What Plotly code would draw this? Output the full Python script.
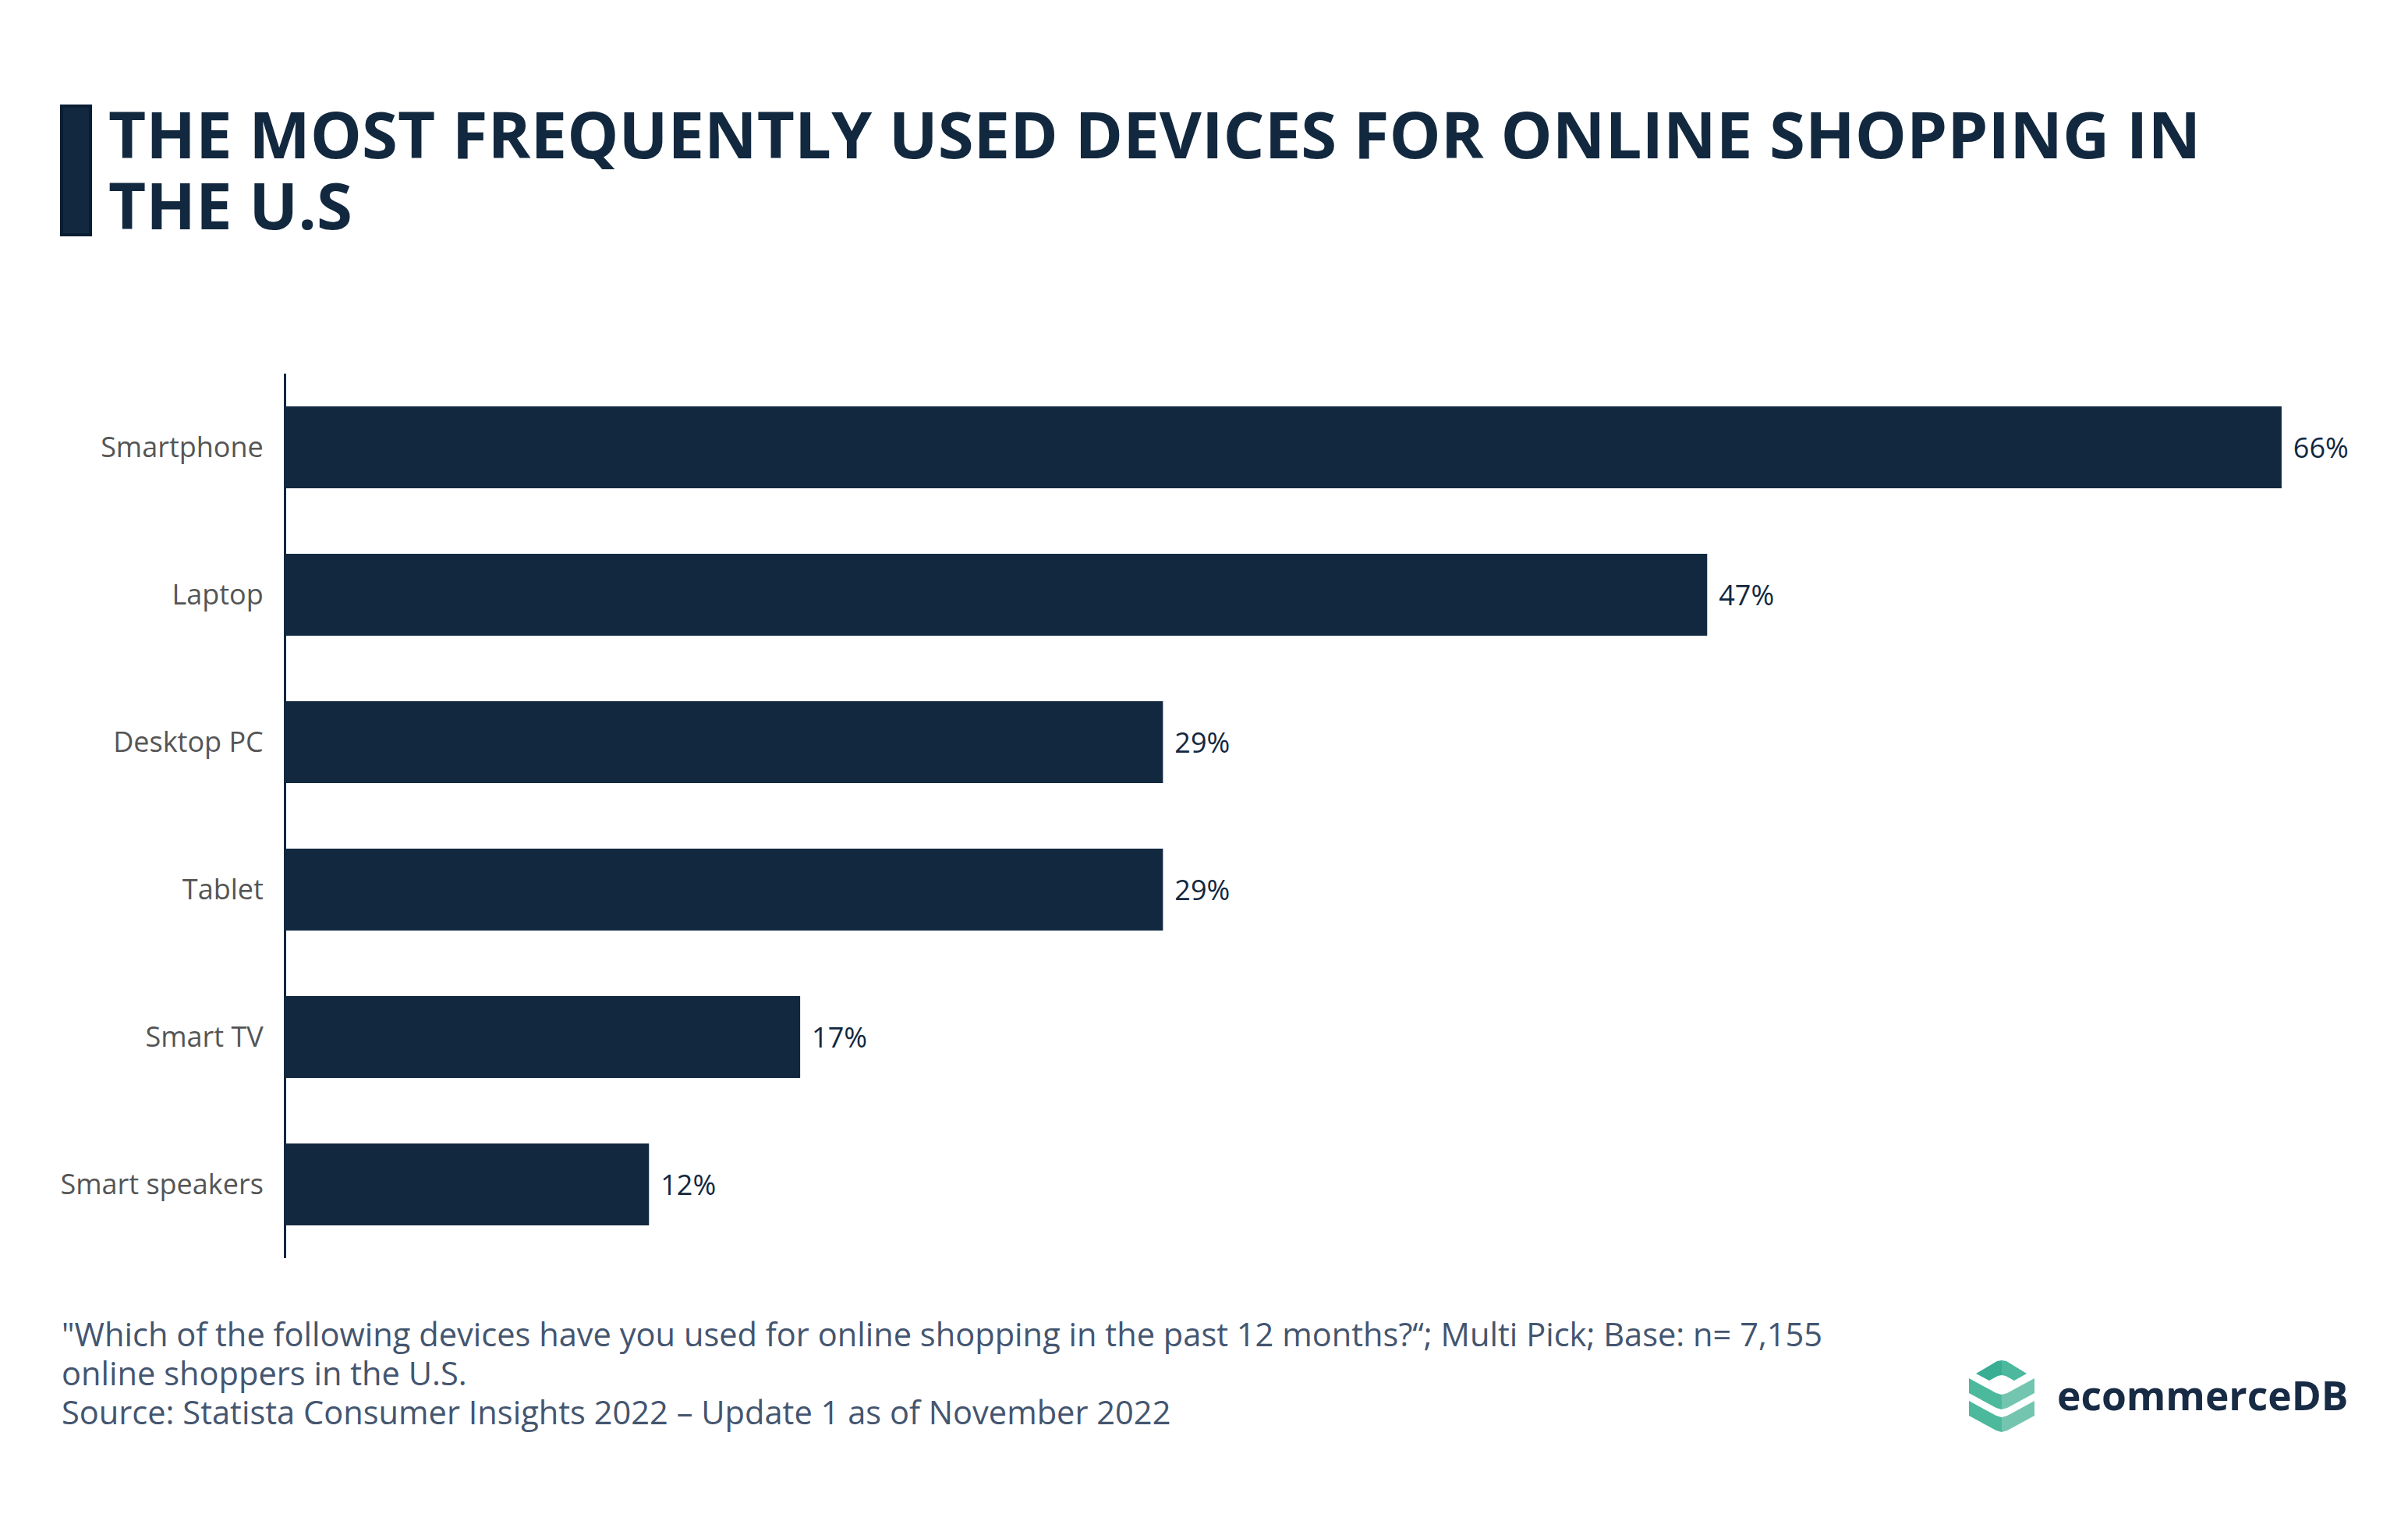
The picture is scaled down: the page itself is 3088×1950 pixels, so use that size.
import plotly.graph_objects as go

# Data
devices = ['Smartphone', 'Laptop', 'Desktop PC', 'Tablet', 'Smart TV', 'Smart speakers']
shares = [66, 47, 29, 29, 17, 12]
title_lines = ['THE MOST FREQUENTLY USED DEVICES FOR ONLINE SHOPPING IN', 'THE U.S']
note_lines = [
    '"Which of the following devices have you used for online shopping in the past 12 months?“; Multi Pick; Base: n= 7,155',
    'online shoppers in the U.S.',
    'Source: Statista Consumer Insights 2022 – Update 1 as of November 2022',
]

# Colors
navy = '#12283f'
# The page has an 8px body margin, so the figure starts at (8, 8)
OFFSET = 8
W, H = 3088 - OFFSET, 1950 - OFFSET
FONT = 'Open Sans'
PLOT_L, PLOT_R, PLOT_T, PLOT_B = 367, 3081, 479, 1613


def px_x(x):
    """Page pixel to paper x, paper being the plot area."""
    return (x - PLOT_L) / (PLOT_R - PLOT_L)


def px_y(y):
    return (PLOT_B - y) / (PLOT_B - PLOT_T)


def poly(points, color):
    """Builds a filled shape from pixel points on the page."""
    path = 'M ' + ' L '.join(f'{px_x(x):.5f},{px_y(y):.5f}' for x, y in points) + ' Z'
    return dict(type='path', xref='paper', yref='paper', path=path,
                fillcolor=color, line=dict(width=0), layer='above')


def text(x, y, s, size, color, weight='normal', anchor='left'):
    return dict(x=px_x(x), y=px_y(y), xref='paper', yref='paper', text=s, showarrow=False,
                xanchor=anchor, yanchor='middle', align=anchor, borderpad=0,
                font=dict(family=FONT, size=size, color=color, weight=weight))


fig = go.Figure(go.Bar(
    x=shares, y=devices, orientation='h', marker=dict(color=navy, line=dict(width=0)),
    text=[f'\u2009\u2009{v}%' for v in shares], textposition='outside', cliponaxis=False,
    textfont=dict(family=FONT, size=36, color=navy),
))

annotations = [
    text(138, 171, title_lines[0], 83.3, navy, 'bold'),
    text(138, 261, title_lines[1], 83.3, navy, 'bold'),
    text(78, 1710, note_lines[0], 41.6, '#44556f'),
    text(78, 1760, note_lines[1], 41.6, '#44556f'),
    text(78, 1810, note_lines[2], 41.6, '#44556f'),
    text(2637, 1788, 'ecommerceDB', 51.5, '#172b45', 'bold'),
]

# Logo
cx = 2567
top_l = [(2534, 1761), (2561, 1745), (cx, 1744), (cx, 1763), (2562, 1764), (2551, 1770)]
top_r = [(cx, 1744), (2573, 1745), (2599, 1761), (2583, 1770), (2572, 1764), (cx, 1763)]
shapes = [
    dict(type='rect', xref='paper', yref='paper', x0=px_x(79), x1=px_x(116),
         y0=px_y(136), y1=px_y(301), fillcolor=navy, line=dict(color='#0a1e33', width=4)),
    poly(top_l, '#3aae92'),
    poly(top_r, '#4cb89d'),
]
for dy in (0, 29):
    shapes.append(poly([(2525, 1767 + dy), (2560, 1786 + dy), (cx, 1788 + dy), (cx, 1807 + dy),
                        (2560, 1805 + dy), (2525, 1786 + dy)], '#4db99c'))
    shapes.append(poly([(cx, 1788 + dy), (2574, 1786 + dy), (2609, 1767 + dy), (2609, 1786 + dy),
                        (2574, 1805 + dy), (cx, 1807 + dy)], '#74c5b0'))

fig.update_layout(
    width=W, height=H, paper_bgcolor='white', plot_bgcolor='white',
    margin=dict(l=PLOT_L - OFFSET, r=3088 - PLOT_R, t=PLOT_T - OFFSET, b=1950 - PLOT_B, autoexpand=False),
    bargap=0.444, showlegend=False, annotations=annotations, shapes=shapes,
)
fig.update_xaxes(range=[0, 70], visible=False)
fig.update_yaxes(autorange='reversed', showline=True, linecolor=navy, linewidth=3, showgrid=False,
                 ticks='', ticklabelstandoff=19, tickfont=dict(family=FONT, size=36, color='#555555'))
fig.write_html('out.html')
